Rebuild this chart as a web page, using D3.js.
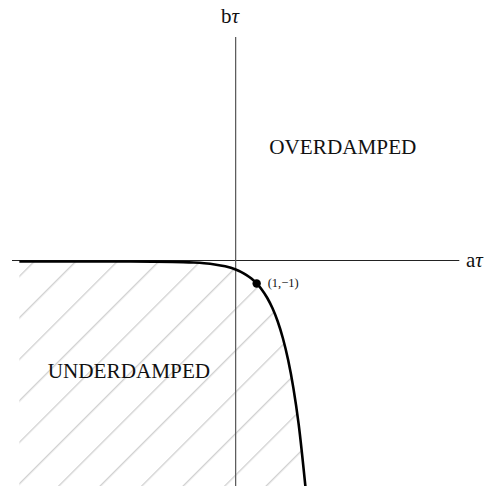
<!DOCTYPE html>
<html>
<head>
<meta charset="utf-8">
<script src="https://cdn.jsdelivr.net/npm/d3@7"></script>
<style>
  html, body { margin: 0; padding: 0; background: #fff; }
  svg { display: block; }
  text { font-family: "Liberation Serif", "DejaVu Serif", serif; fill: #111; }
</style>
</head>
<body>
<svg id="chart" width="489" height="486"></svg>
<script>
// Boundary between the two regimes in the (aτ, bτ) plane
const aTau = [-10.3, -7, -5, -4, -3, -2.5, -2, -1.5, -1, -0.5, 0, 0.25, 0.5, 0.75, 1, 1.25, 1.5, 1.75, 2, 2.25, 2.5, 2.75, 3, 3.33];
const bTau = [0, -0.0003, -0.0025, -0.0067, -0.018, -0.03, -0.05, -0.082, -0.135, -0.223, -0.368, -0.472, -0.607, -0.779, -1.0, -1.284, -1.649, -2.117, -2.718, -3.49, -4.482, -5.755, -7.389, -10.3];

// Marked point on the boundary
const markA = [1];
const markB = [-1];
const markLabels = ["(1,\u22121)"];

// Region labels
const regionNames = ["OVERDAMPED", "UNDERDAMPED"];
const regionA = [1.6, -8.95];
const regionB = [4.9, -5.3];

const width = 489, height = 486;
const svg = d3.select("#chart");

const x = d3.scaleLinear().domain([-10.65, 10.65]).range([12, 459.3]);
const y = d3.scaleLinear().domain([10.2, -10.25]).range([37, 487]);

const pts = aTau.map((a, i) => ({ a, b: bTau[i] }));

// Diagonal hatching for the underdamped side
const defs = svg.append("defs");
const pat = defs.append("pattern")
  .attr("id", "hatch")
  .attr("patternUnits", "userSpaceOnUse")
  .attr("width", 29.35)
  .attr("height", 29.35)
  .attr("patternTransform", "rotate(45)");
pat.append("line")
  .attr("x1", 3.68).attr("y1", -1)
  .attr("x2", 3.68).attr("y2", 31)
  .attr("stroke", "#c6c6c6")
  .attr("stroke-width", 1.1);

const area = d3.area()
  .x(d => x(d.a))
  .y0(y(-10.25))
  .y1(d => y(d.b))
  .curve(d3.curveMonotoneX);

svg.append("path")
  .datum(pts)
  .attr("d", area)
  .attr("fill", "url(#hatch)");

// Axes through the origin
svg.append("line")
  .attr("x1", x(-10.65)).attr("x2", x(10.65))
  .attr("y1", Math.round(y(0)) - 0.5).attr("y2", Math.round(y(0)) - 0.5)
  .attr("stroke", "#222").attr("stroke-width", 1);

svg.append("line")
  .attr("x1", x(0)).attr("x2", x(0))
  .attr("y1", y(10.2)).attr("y2", y(-10.25))
  .attr("stroke", "#555").attr("stroke-width", 1.2);

// Boundary curve
const line = d3.line()
  .x(d => x(d.a))
  .y(d => y(d.b))
  .curve(d3.curveMonotoneX);

svg.append("path")
  .datum(pts)
  .attr("d", line)
  .attr("fill", "none")
  .attr("stroke", "#000")
  .attr("stroke-width", 2.6);

// Marked point and its label
svg.selectAll("circle.mark")
  .data(markA)
  .join("circle")
  .attr("class", "mark")
  .attr("cx", d => x(d))
  .attr("cy", (d, i) => y(markB[i]))
  .attr("r", 4.2)
  .attr("fill", "#000");

svg.selectAll("text.mark")
  .data(markLabels)
  .join("text")
  .attr("class", "mark")
  .attr("x", (d, i) => x(markA[i]) + 11)
  .attr("y", (d, i) => y(markB[i]) + 4)
  .attr("font-size", 12.5)
  .text(d => d);

// Axis titles
const xt = svg.append("text")
  .attr("x", 466).attr("y", 267)
  .attr("font-size", 21);
xt.append("tspan").text("a");
xt.append("tspan").attr("font-style", "italic").text("\u03c4");

const yt = svg.append("text")
  .attr("x", 221).attr("y", 23)
  .attr("font-size", 21);
yt.append("tspan").text("b");
yt.append("tspan").attr("font-style", "italic").text("\u03c4");

// Region labels
svg.selectAll("text.region")
  .data(regionNames)
  .join("text")
  .attr("class", "region")
  .attr("x", (d, i) => x(regionA[i]))
  .attr("y", (d, i) => y(regionB[i]))
  .attr("font-size", 21.2)
  .text(d => d);
</script>
</body>
</html>
